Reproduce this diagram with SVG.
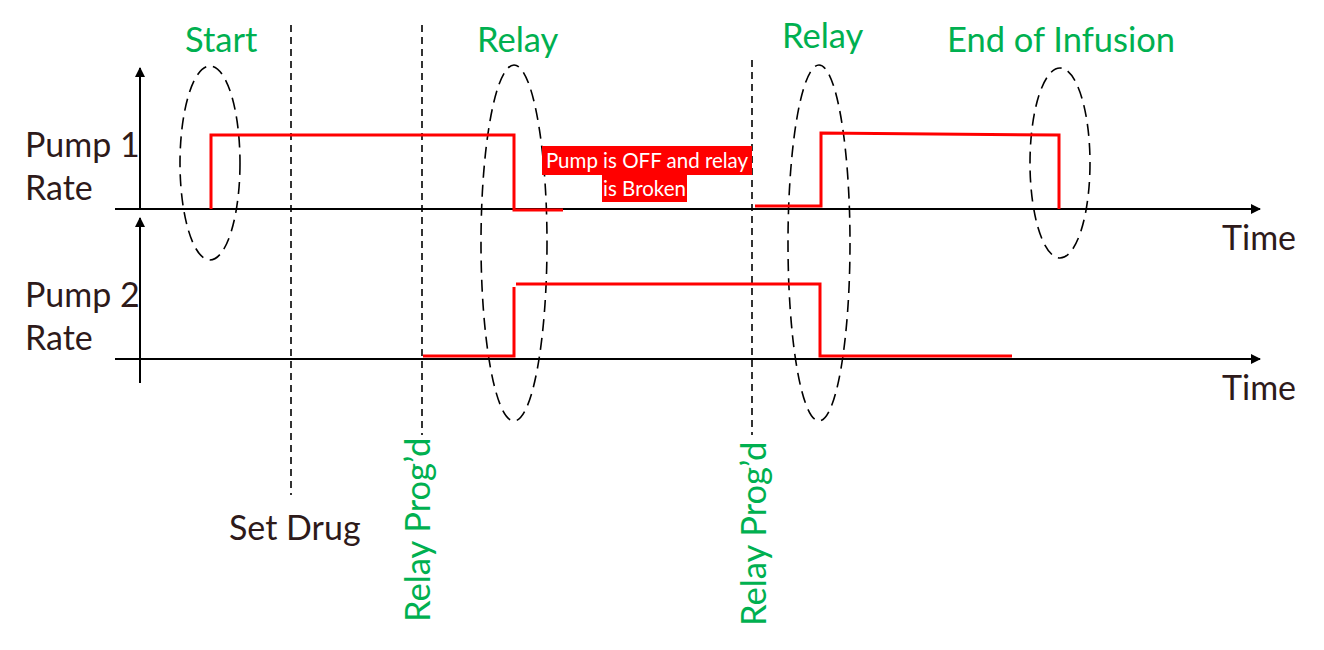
<svg xmlns="http://www.w3.org/2000/svg" width="1324" height="650" viewBox="0 0 1324 650">
<defs>
<style>
.lbl{font-family:Lato,"Open Sans","Liberation Sans",sans-serif;font-size:34px;fill:#2e1a1a}
.grn{font-family:Lato,"Open Sans","Liberation Sans",sans-serif;font-size:34.5px;fill:#00b050}
.wht{font-family:Lato,"Open Sans","Liberation Sans",sans-serif;font-size:20.5px;fill:#ffffff}
.axis{stroke:#000;stroke-width:2;fill:none}
.dash{stroke:#000;stroke-width:1.6;fill:none;stroke-dasharray:7 5}
.ell{stroke:#000;stroke-width:1.6;fill:none;stroke-dasharray:12 7}
.sig{stroke:#ff0000;stroke-width:3;fill:none}
</style>
<marker id="arr" viewBox="0 0 10 10" refX="9" refY="5" markerWidth="10" markerHeight="10" markerUnits="userSpaceOnUse" orient="auto">
<path d="M0,0 L10,5 L0,10 Z" fill="#000"/>
</marker>
</defs>
<rect width="1324" height="650" fill="#fff"/>
<g id="axes">
<line class="axis" x1="140" y1="209" x2="140" y2="68" marker-end="url(#arr)"/>
<line class="axis" x1="140" y1="383" x2="140" y2="218" marker-end="url(#arr)"/>
<line class="axis" x1="115" y1="209" x2="1260" y2="209" marker-end="url(#arr)"/>
<line class="axis" x1="115" y1="359" x2="1260" y2="359" marker-end="url(#arr)"/>
</g>
<g id="markers">
<line class="dash" x1="291" y1="25" x2="291" y2="495"/>
<line class="dash" x1="422" y1="25" x2="422" y2="435"/>
<line class="dash" x1="752" y1="60" x2="752" y2="435"/>
</g>
<g id="ellipses">
<ellipse class="ell" cx="210" cy="163" rx="30" ry="97"/>
<ellipse class="ell" cx="514" cy="243" rx="33" ry="178"/>
<ellipse class="ell" cx="819" cy="243" rx="31" ry="178"/>
<ellipse class="ell" cx="1060" cy="163" rx="30" ry="95"/>
</g>
<g id="signals">
<polyline class="sig" points="211,209 211,135 514,135 514,210 563,210"/>
<polyline class="sig" points="755,206 821,206 821,133 1059,135 1059,209"/>
<polyline class="sig" points="423,356 514,356 514,287"/>
<polyline class="sig" points="516,284 820,284 820,356 1012,356"/>
</g>
<g id="labels">
<text class="lbl" x="25" y="157">Pump 1</text>
<text class="lbl" x="25" y="200">Rate</text>
<text class="lbl" x="25" y="307">Pump 2</text>
<text class="lbl" x="25" y="350">Rate</text>
<text class="lbl" x="1222" y="250">Time</text>
<text class="lbl" x="1222" y="400">Time</text>
<text class="lbl" x="229" y="540">Set Drug</text>
<text class="grn" x="185" y="52">Start</text>
<text class="grn" x="477" y="52">Relay</text>
<text class="grn" x="782" y="48">Relay</text>
<text class="grn" x="947" y="52">End of Infusion</text>
<text class="grn" transform="translate(430,622) rotate(-90)">Relay Prog’d</text>
<text class="grn" transform="translate(766,626) rotate(-90)">Relay Prog’d</text>
</g>
<g id="note">
<rect x="542" y="146" width="210" height="29" fill="#ff0000"/>
<rect x="602" y="175" width="85" height="27" fill="#ff0000"/>
<text class="wht" x="647" y="168" text-anchor="middle">Pump is OFF and relay</text>
<text class="wht" x="644.5" y="196" text-anchor="middle">is Broken</text>
</g>
</svg>
